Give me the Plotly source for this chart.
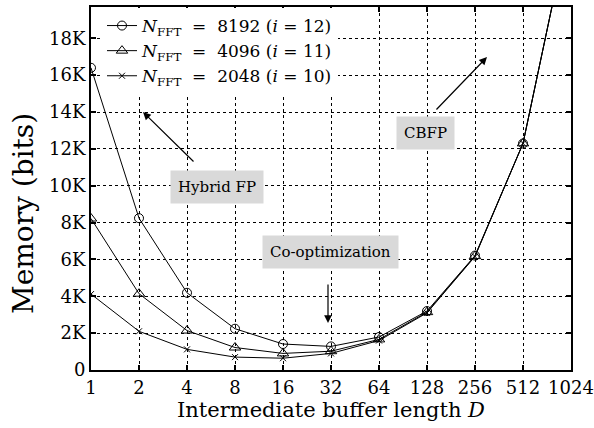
import plotly.graph_objects as go

D = [1, 2, 4, 8, 16, 32, 64, 128, 256, 512, 1024]
x_ticktext = ["1", "2", "4", "8", "16", "32", "64", "128", "256", "512", "1024"]

mem_8192 = [16400, 8240, 4190, 2240, 1410, 1280, 1790, 3200, 6210, 12290, 24590]
mem_4096 = [8220, 4140, 2140, 1220, 900, 1020, 1660, 3140, 6180, 12300, 24580]
mem_2048 = [4120, 2100, 1120, 700, 640, 900, 1600, 3100, 6160, 12300, 24580]

y_tickvals = [0, 2000, 4000, 6000, 8000, 10000, 12000, 14000, 16000, 18000]
y_ticktext = ["0", "2K", "4K", "6K", "8K", "10K", "12K", "14K", "16K", "18K"]

S2 = "&nbsp;&nbsp;"
S1 = "&nbsp;"
names = [
    f"<i>N</i><sub>FFT</sub>{S2}={S2}8192{S1}(<i>i</i>{S1}={S1}12)",
    f"<i>N</i><sub>FFT</sub>{S2}={S2}4096{S1}(<i>i</i>{S1}={S1}11)",
    f"<i>N</i><sub>FFT</sub>{S2}={S2}2048{S1}(<i>i</i>{S1}={S1}10)",
]
series = [mem_8192, mem_4096, mem_2048]
symbols = ["circle-open", "triangle-up-open", "x-thin-open"]
sizes = [9, 10, 6]

FONT = "DejaVu Serif"

fig = go.Figure()
for name, ys, sym, sz in zip(names, series, symbols, sizes):
    fig.add_trace(go.Scatter(
        x=D, y=ys, mode="lines+markers", name=name,
        line=dict(color="black", width=1),
        marker=dict(symbol=sym, size=sz, color="black",
                    line=dict(color="black", width=1)),
        cliponaxis=True,
    ))

axis_common = dict(
    showline=True, linecolor="black", linewidth=2, mirror="ticks",
    ticks="inside", ticklen=5, tickwidth=2, tickcolor="black",
    showgrid=True, gridcolor="black", griddash="dot", gridwidth=1,
    zeroline=False, automargin=False,
    tickfont=dict(family=FONT, size=18, color="black"),
)

fig.update_xaxes(
    type="log", range=[0, 3.0103],
    tickvals=D, ticktext=x_ticktext,
    title=dict(text="Intermediate buffer length <i>D</i>",
               font=dict(family=FONT, size=21, color="black"), standoff=2),
    **axis_common,
)
fig.update_yaxes(
    range=[0, 19700],
    tickvals=y_tickvals, ticktext=y_ticktext,
    **axis_common,
)

def px(xp):
    return (xp - 91) / (571 - 91)

def py(yp):
    return (370 - yp) / (370 - 7)

# y-axis title placed as rotated text (centred lower, as in the reference)
fig.add_annotation(text="Memory (bits)", textangle=-90, showarrow=False,
                   xref="paper", yref="paper", x=px(23), y=py(214),
                   xanchor="center", yanchor="middle",
                   font=dict(family=FONT, size=28, color="black"))

ann_font = dict(family=FONT, size=15, color="black")
box = dict(bgcolor="#d9d9d9", borderpad=7, font=ann_font, showarrow=False,
           xref="x domain", yref="y domain",
           xanchor="center", yanchor="middle")

fig.add_annotation(text="Hybrid FP", x=px(217), y=py(187), **box)
fig.add_annotation(text="Co-optimization", x=px(330), y=py(252), **box)
fig.add_annotation(text="CBFP", x=px(425), y=py(133), **box)

arrows = [((195, 163), (143, 112)), ((328, 283), (328, 323)), ((435, 111), (487, 57))]
for (x0, y0), (x1, y1) in arrows:
    fig.add_annotation(
        x=px(x1), y=py(y1), ax=px(x0), ay=py(y0),
        xref="x domain", yref="y domain", axref="x domain", ayref="y domain",
        text="", showarrow=True, arrowhead=2, arrowsize=1.3,
        arrowwidth=1.2, arrowcolor="black",
    )

fig.update_layout(
    width=594, height=428,
    margin=dict(l=91, r=23, t=7, b=58),
    paper_bgcolor="white", plot_bgcolor="white",
    font=dict(family=FONT, color="black"),
    showlegend=True,
    legend=dict(
        x=px(102), y=py(8), xanchor="left", yanchor="top",
        bgcolor="white", borderwidth=0,
        font=dict(family=FONT, size=17, color="black"),
        tracegroupgap=0, itemwidth=30,
    ),
)

fig.write_html("out.html", config={"displayModeBar": False},
               post_script="document.body.style.margin='0';")
